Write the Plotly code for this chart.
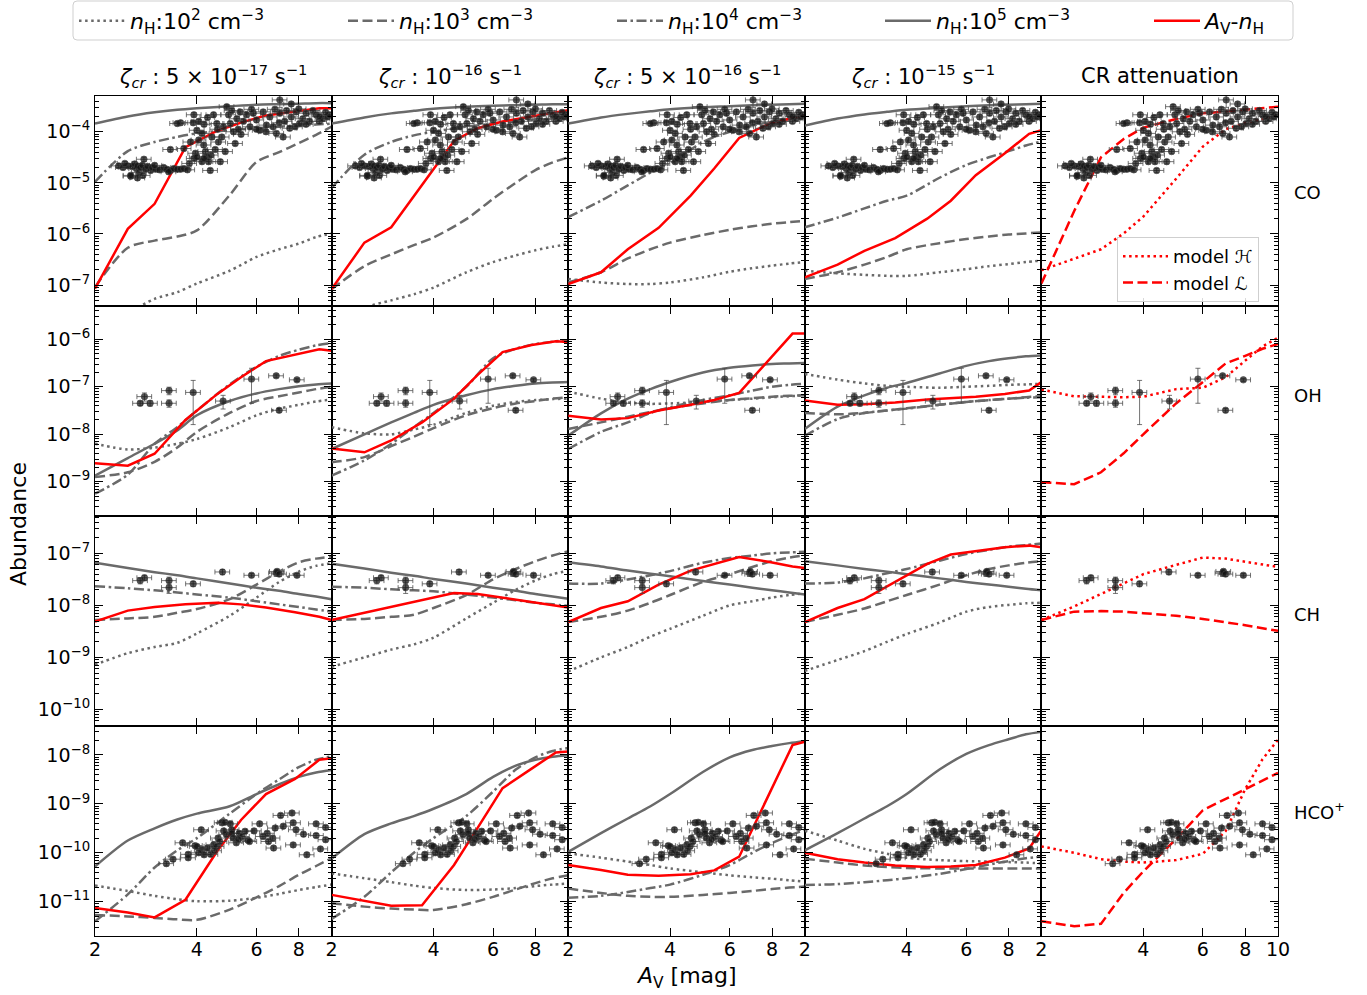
import math
import plotly.graph_objects as go
from plotly.subplots import make_subplots

W, H = 1367, 995

# ---------------------------------------------------------------- data
# visual extinction grids (mag)
AV_GRID = [2.0, 2.5, 3.0, 3.5, 4.0, 5.0, 6.0, 7.0, 8.0, 9.0, 10.0]
AV_RED = [2.0, 2.5, 3.0, 3.7, 4.6, 5.4, 6.4, 7.8, 9.2, 10.0]

COL_TITLES = [
    "<i>ζ<sub>cr</sub></i> : 5 × 10<sup>−17</sup> s<sup>−1</sup>",
    "<i>ζ<sub>cr</sub></i> : 10<sup>−16</sup> s<sup>−1</sup>",
    "<i>ζ<sub>cr</sub></i> : 5 × 10<sup>−16</sup> s<sup>−1</sup>",
    "<i>ζ<sub>cr</sub></i> : 10<sup>−15</sup> s<sup>−1</sup>",
    "CR attenuation",
]
ROW_LABELS = ["CO", "OH", "CH", "HCO<sup>+</sup>"]

# log10 abundances on AV_GRID, one list per cosmic-ray ionisation rate
CO_N2 = [
    [-7.9, -7.55, -7.27, -7.14, -6.97, -6.72, -6.45, -6.3, -6.19, -6.06, -5.99],
    [-7.9, -7.45, -7.3, -7.18, -7.05, -6.75, -6.55, -6.42, -6.32, -6.25, -6.2],
    [-6.88, -6.95, -6.98, -6.98, -6.95, -6.85, -6.74, -6.67, -6.62, -6.58, -6.55],
    [-6.72, -6.77, -6.8, -6.82, -6.82, -6.75, -6.69, -6.63, -6.59, -6.55, -6.52],
]
CO_N3 = [
    [-7.04, -6.27, -6.13, -6.05, -5.93, -5.24, -4.59, -4.4, -4.22, -4.06, -3.9],
    [-7.08, -6.63, -6.4, -6.22, -6.07, -5.71, -5.31, -5.0, -4.75, -4.6, -4.5],
    [-6.95, -6.75, -6.48, -6.3, -6.17, -6.02, -5.92, -5.85, -5.8, -5.77, -5.74],
    [-6.88, -6.75, -6.6, -6.45, -6.3, -6.18, -6.1, -6.05, -6.01, -5.99, -5.97],
]
CO_N4 = [
    [-4.98, -4.38, -4.2, -4.1, -4.03, -3.97, -3.93, -3.9, -3.88, -3.86, -3.84],
    [-5.1, -4.45, -4.2, -4.07, -4.0, -3.9, -3.84, -3.8, -3.77, -3.74, -3.72],
    [-5.67, -5.35, -5.05, -4.8, -4.62, -4.2, -4.0, -3.88, -3.8, -3.75, -3.71],
    [-5.87, -5.68, -5.5, -5.35, -5.25, -4.9, -4.65, -4.5, -4.38, -4.27, -4.19],
]
CO_N5 = [
    [-3.84, -3.7, -3.62, -3.57, -3.54, -3.5, -3.47, -3.46, -3.45, -3.44, -3.44],
    [-3.84, -3.72, -3.64, -3.59, -3.55, -3.51, -3.49, -3.48, -3.47, -3.46, -3.46],
    [-3.84, -3.72, -3.65, -3.6, -3.56, -3.52, -3.5, -3.48, -3.47, -3.46, -3.45],
    [-3.88, -3.74, -3.66, -3.61, -3.57, -3.53, -3.5, -3.48, -3.47, -3.46, -3.45],
]
CO_AVNH = [  # on AV_RED
    [-7.07, -5.9, -5.41, -4.3, -3.98, -3.82, -3.68, -3.6, -3.54, -3.54],
    [-7.08, -6.17, -5.87, -5.05, -4.18, -3.93, -3.8, -3.7, -3.62, -3.58],
    [-6.98, -6.75, -6.3, -5.88, -5.25, -4.72, -4.12, -3.85, -3.73, -3.68],
    [-6.85, -6.6, -6.33, -6.08, -5.7, -5.35, -4.85, -4.42, -4.04, -3.97],
]
CO_MODEL_H = [-6.71, -6.48, -6.3, -5.99, -5.66, -4.92, -4.29, -3.95, -3.83, -3.75, -3.67]
CO_MODEL_L = [-6.97, -5.55, -4.5, -4.14, -3.92, -3.75, -3.64, -3.6, -3.56, -3.53, -3.51]

OH_N2 = [
    [-8.2, -8.32, -8.28, -8.2, -8.1, -7.85, -7.6, -7.46, -7.38, -7.31, -7.27],
    [-7.85, -7.98, -8.0, -7.9, -7.8, -7.55, -7.4, -7.32, -7.28, -7.26, -7.25],
    [-7.1, -7.25, -7.33, -7.36, -7.35, -7.32, -7.28, -7.25, -7.22, -7.2, -7.18],
    [-6.73, -6.85, -6.93, -6.98, -7.0, -7.02, -7.0, -6.98, -6.96, -6.95, -6.94],
]
OH_N3 = [
    [-8.9, -8.8, -8.58, -8.28, -7.95, -7.55, -7.3, -7.2, -7.12, -7.05, -7.0],
    [-8.59, -8.48, -8.25, -8.05, -7.87, -7.6, -7.45, -7.35, -7.3, -7.25, -7.22],
    [-7.89, -7.75, -7.63, -7.53, -7.45, -7.35, -7.28, -7.24, -7.21, -7.19, -7.18],
    [-7.55, -7.58, -7.55, -7.5, -7.45, -7.38, -7.32, -7.28, -7.25, -7.22, -7.2],
]
OH_N4 = [
    [-9.25, -8.85, -8.2, -7.85, -7.5, -6.95, -6.58, -6.35, -6.22, -6.13, -6.08],
    [-8.87, -8.55, -8.2, -7.85, -7.55, -7.0, -6.4, -6.2, -6.1, -6.05, -6.02],
    [-8.31, -7.95, -7.75, -7.55, -7.43, -7.28, -7.18, -7.08, -7.0, -6.96, -6.94],
    [-8.03, -7.68, -7.55, -7.5, -7.46, -7.38, -7.32, -7.28, -7.25, -7.23, -7.22],
]
OH_N5 = [
    [-8.87, -8.5, -8.2, -7.92, -7.6, -7.3, -7.14, -7.05, -6.99, -6.95, -6.93],
    [-8.31, -8.0, -7.75, -7.55, -7.38, -7.18, -7.05, -6.98, -6.93, -6.91, -6.9],
    [-8.03, -7.56, -7.25, -7.05, -6.9, -6.7, -6.6, -6.55, -6.52, -6.51, -6.5],
    [-7.89, -7.42, -7.18, -7.02, -6.92, -6.72, -6.56, -6.46, -6.4, -6.36, -6.34],
]
OH_AVNH = [
    [-8.61, -8.66, -8.41, -7.7, -7.15, -6.8, -6.46, -6.32, -6.21, -6.24],
    [-8.3, -8.38, -8.13, -7.75, -7.25, -6.75, -6.27, -6.12, -6.04, -6.06],
    [-7.61, -7.69, -7.66, -7.5, -7.38, -7.28, -7.13, -6.45, -5.88, -5.88],
    [-7.29, -7.38, -7.37, -7.33, -7.27, -7.24, -7.21, -7.15, -7.08, -6.9],
]
OH_MODEL_H = [-7.06, -7.2, -7.21, -7.22, -7.21, -7.05, -7.02, -6.8, -6.45, -6.15, -5.97]
OH_MODEL_L = [-9.01, -9.05, -8.8, -8.4, -8.0, -7.35, -6.9, -6.51, -6.35, -6.2, -6.1]

CH_N2 = [
    [-9.14, -8.92, -8.8, -8.72, -8.54, -8.2, -7.85, -7.55, -7.35, -7.24, -7.19],
    [-9.18, -9.0, -8.85, -8.75, -8.62, -8.25, -7.95, -7.7, -7.52, -7.4, -7.33],
    [-9.27, -9.0, -8.8, -8.6, -8.45, -8.2, -8.0, -7.92, -7.85, -7.8, -7.77],
    [-9.26, -9.05, -8.88, -8.7, -8.55, -8.33, -8.12, -8.03, -7.99, -7.96, -7.95],
]
CH_N3 = [
    [-8.28, -8.25, -8.22, -8.14, -8.07, -7.88, -7.6, -7.35, -7.17, -7.1, -7.06],
    [-8.28, -8.26, -8.22, -8.18, -8.05, -7.8, -7.5, -7.3, -7.15, -7.04, -6.96],
    [-8.32, -8.22, -8.1, -7.95, -7.8, -7.55, -7.4, -7.26, -7.15, -7.08, -7.04],
    [-8.32, -8.18, -8.06, -7.92, -7.8, -7.6, -7.42, -7.3, -7.23, -7.18, -7.15],
]
CH_N4 = [
    [-7.63, -7.67, -7.71, -7.75, -7.79, -7.85, -7.92, -7.98, -8.03, -8.08, -8.12],
    [-7.64, -7.66, -7.69, -7.71, -7.73, -7.79, -7.85, -7.9, -7.95, -7.98, -8.01],
    [-7.58, -7.58, -7.5, -7.42, -7.34, -7.18, -7.09, -7.04, -7.0, -6.98, -6.97],
    [-7.58, -7.56, -7.48, -7.38, -7.3, -7.14, -7.01, -6.93, -6.87, -6.84, -6.81],
]
CH_N5 = [
    [-7.18, -7.28, -7.36, -7.42, -7.48, -7.58, -7.66, -7.72, -7.78, -7.83, -7.88],
    [-7.2, -7.29, -7.37, -7.43, -7.49, -7.58, -7.66, -7.72, -7.78, -7.83, -7.87],
    [-7.17, -7.25, -7.33, -7.39, -7.44, -7.53, -7.6, -7.66, -7.71, -7.75, -7.79],
    [-7.15, -7.23, -7.3, -7.35, -7.4, -7.48, -7.55, -7.6, -7.64, -7.68, -7.71],
]
CH_AVNH = [
    [-8.31, -8.1, -8.03, -7.98, -7.95, -7.98, -8.04, -8.13, -8.22, -8.28],
    [-8.28, -8.14, -8.04, -7.9, -7.76, -7.78, -7.85, -7.94, -8.01, -8.04],
    [-8.32, -8.05, -7.92, -7.6, -7.33, -7.2, -7.07, -7.16, -7.25, -7.28],
    [-8.32, -8.05, -7.88, -7.55, -7.2, -7.02, -6.95, -6.88, -6.85, -6.88],
]
CH_MODEL_H = [-8.28, -8.02, -7.78, -7.58, -7.4, -7.22, -7.08, -7.1, -7.16, -7.21, -7.26]
CH_MODEL_L = [-8.28, -8.12, -8.11, -8.12, -8.15, -8.2, -8.26, -8.32, -8.38, -8.44, -8.49]

HCO_N2 = [
    [-10.67, -10.78, -10.88, -10.95, -10.99, -10.98, -10.92, -10.84, -10.76, -10.7, -10.65],
    [-10.42, -10.52, -10.6, -10.67, -10.72, -10.76, -10.75, -10.72, -10.68, -10.65, -10.63],
    [-10.01, -10.1, -10.18, -10.25, -10.32, -10.4, -10.46, -10.5, -10.53, -10.56, -10.59],
    [-9.55, -9.75, -9.92, -10.02, -10.1, -10.15, -10.17, -10.18, -10.19, -10.2, -10.22],
]
HCO_N3 = [
    [-11.27, -11.3, -11.33, -11.36, -11.37, -11.16, -10.91, -10.68, -10.45, -10.27, -10.11],
    [-11.03, -11.1, -11.14, -11.16, -11.17, -11.05, -10.9, -10.75, -10.62, -10.52, -10.46],
    [-10.73, -10.82, -10.88, -10.9, -10.9, -10.86, -10.82, -10.78, -10.74, -10.71, -10.69],
    [-10.12, -10.2, -10.26, -10.29, -10.31, -10.32, -10.32, -10.32, -10.32, -10.32, -10.32],
]
HCO_N4 = [
    [-11.4, -10.85, -10.3, -9.95, -9.7, -9.2, -8.8, -8.5, -8.25, -8.1, -8.03],
    [-11.35, -10.9, -10.4, -10.0, -9.7, -9.25, -8.75, -8.3, -8.05, -7.92, -7.86],
    [-10.92, -10.88, -10.8, -10.72, -10.65, -10.45, -10.25, -10.0, -9.8, -9.65, -9.53],
    [-10.66, -10.64, -10.6, -10.56, -10.52, -10.43, -10.33, -10.24, -10.17, -10.11, -10.08],
]
HCO_N5 = [
    [-10.28, -9.75, -9.5, -9.32, -9.2, -9.05, -8.8, -8.6, -8.45, -8.36, -8.31],
    [-10.12, -9.62, -9.4, -9.25, -9.1, -8.8, -8.45, -8.22, -8.1, -8.04, -8.01],
    [-9.98, -9.6, -9.3, -9.05, -8.8, -8.35, -8.05, -7.9, -7.82, -7.76, -7.72],
    [-9.95, -9.6, -9.3, -9.05, -8.8, -8.3, -7.98, -7.8, -7.68, -7.58, -7.53],
]
HCO_AVNH = [
    [-11.13, -11.22, -11.32, -10.96, -9.96, -9.33, -8.8, -8.49, -8.1, -8.07],
    [-10.86, -10.98, -11.08, -11.07, -10.25, -9.49, -8.68, -8.28, -7.95, -7.93],
    [-10.25, -10.35, -10.45, -10.47, -10.44, -10.36, -10.08, -8.83, -7.8, -7.73],
    [-10.0, -10.13, -10.2, -10.26, -10.29, -10.28, -10.25, -10.1, -9.91, -9.54],
]
HCO_MODEL_H = [-9.87, -10.0, -10.13, -10.18, -10.2, -10.15, -10.02, -9.56, -8.7, -8.09, -7.69]
HCO_MODEL_L = [-11.4, -11.5, -11.45, -10.82, -10.38, -9.72, -9.13, -8.9, -8.7, -8.54, -8.37]

# observed abundances (A_V in mag, abundance relative to H)
CO_OBS_AV = [
    2.35, 2.42, 2.50, 2.55, 2.58, 2.62, 2.65, 2.67, 2.70, 2.72, 2.76, 2.79, 2.82, 2.86,
    2.92, 2.95, 3.02, 3.10, 3.19, 3.26, 3.34, 3.42, 3.50, 3.58, 3.66, 3.75, 2.55, 2.77,
    2.67, 2.45, 3.00, 3.30,
    3.34, 3.58, 3.66, 3.83, 3.92, 3.92, 3.96, 4.00, 4.05, 4.05, 4.14, 4.14, 4.19, 4.24,
    4.28, 4.33, 4.38, 4.43, 4.48, 4.53, 4.58, 4.63, 4.69, 4.74, 4.79, 4.85, 4.90, 4.96,
    5.02, 5.07, 5.13, 5.19, 5.25, 5.37, 5.49, 5.61, 5.74, 5.87, 6.00, 6.14, 6.28, 6.42,
    6.57, 6.72, 6.87, 7.03, 7.19, 7.27, 7.36, 7.52, 7.60, 7.86, 8.04, 8.22, 8.41, 8.60,
    8.80, 9.00, 9.20, 9.41, 9.73, 9.84, 7.03, 7.60, 9.20,
    4.30, 4.60, 4.40, 4.20, 3.80, 4.00, 5.40, 5.30, 6.00, 6.40, 7.00, 7.80, 8.40, 9.60,
    5.80, 6.80, 8.00, 3.50, 3.90, 4.20,
]
CO_OBS_AB = [
    2.15e-5, 2.0e-5, 2.15e-5, 1.35e-5, 2.1e-5, 2.35e-5, 1.9e-5, 2.15e-5, 1.6e-5, 2.0e-5,
    2.2e-5, 2.9e-5, 1.85e-5, 2.1e-5, 1.75e-5, 2.0e-5, 1.85e-5, 1.8e-5, 2.0e-5, 1.85e-5,
    1.75e-5, 1.9e-5, 1.85e-5, 1.85e-5, 1.9e-5, 1.8e-5, 1.4e-5, 1.4e-5, 1.25e-5, 2.4e-5,
    2.2e-5, 1.65e-5,
    4.5e-5, 1.5e-4, 4.7e-5, 6.3e-5, 3.0e-5, 2.15e-4, 3.8e-5, 1.07e-4, 1.6e-4, 6.9e-5,
    2.6e-5, 9.3e-5, 5.5e-5, 4.1e-5, 3.2e-5, 2.6e-5, 1.75e-5, 7.9e-5, 2.15e-4, 4.5e-5,
    1.45e-4, 6.3e-5, 2.6e-5, 7.9e-5, 1.25e-4, 4.1e-5, 3.1e-4, 2.15e-4, 1.45e-4, 2.6e-4,
    1.0e-4, 5.9e-5, 1.8e-4, 2.45e-4, 1.6e-4, 2.15e-4, 1.25e-4, 2.3e-4, 1.7e-4, 1.07e-4,
    2.45e-4, 1.35e-4, 1.95e-4, 1.25e-4, 9.3e-5, 2.3e-4, 7.9e-5, 1.6e-4, 2.6e-4, 1.17e-4,
    1.95e-4, 2.45e-4, 1.45e-4, 1.8e-4, 2.3e-4, 1.6e-4, 2.6e-4, 2.15e-4, 1.6e-4, 1.8e-4,
    1.95e-4, 2.15e-4, 4.2e-4, 3.5e-4, 2.0e-4,
    1.9e-4, 1.12e-4, 3.5e-5, 3.0e-5, 2.4e-5, 3.2e-5, 8.9e-5, 1.12e-4, 1.12e-4, 1.0e-4,
    1.5e-4, 1.25e-4, 1.4e-4, 2.4e-4, 2.75e-4, 2.75e-4, 2.8e-4, 1.45e-4, 1.5e-4, 1.4e-4,
]
CO_OBS_ERR_FRAC = 0.1
CO_OBS_BIG_ERR = {94: 1.2e-4}  # index -> absolute error of the one broad measurement

OH_OBS_AV = [2.72, 2.80, 2.91, 3.31, 3.31, 3.90, 4.78, 5.80, 6.86, 7.00, 7.90]
OH_OBS_AB = [4.5e-8, 6.2e-8, 4.5e-8, 8.3e-8, 4.5e-8, 7.6e-8, 5.0e-8, 1.45e-7, 1.7e-7, 3.2e-8, 1.4e-7]
OH_OBS_ERR = [0.5e-8, 1.2e-8, 0.6e-8, 1.5e-8, 0.8e-8, 6.0e-8, 1.6e-8, 1.0e-7, 0.15e-7, 0.3e-8, 0.1e-7]

CH_OBS_AV = [2.72, 2.80, 3.31, 3.31, 3.90, 4.76, 5.80, 6.86, 6.90, 7.00, 7.90]
CH_OBS_AB = [3.0e-8, 3.4e-8, 3.0e-8, 2.2e-8, 2.6e-8, 4.4e-8, 3.8e-8, 4.2e-8, 4.5e-8, 4.0e-8, 3.8e-8]
CH_OBS_ERR = [0.4e-8, 0.4e-8, 0.5e-8, 0.5e-8, 0.3e-8, 0.5e-8, 0.3e-8, 0.6e-8, 0.5e-8, 0.4e-8, 0.3e-8]

HCO_OBS_AV = [
    3.25, 3.40, 3.63, 3.77, 3.77, 3.95, 4.00, 4.12, 4.14, 4.20, 4.39, 4.48, 4.58, 4.62,
    4.67, 4.74, 4.84, 4.89, 5.02, 5.07, 5.07, 5.12, 5.23, 5.33, 5.44, 5.55, 5.66, 5.72,
    6.13, 6.27, 6.45, 6.51, 6.70, 6.74, 6.81, 7.07, 7.20, 7.64, 7.70, 7.70, 7.85, 8.26,
    8.45, 9.00, 9.00, 9.27, 9.60, 9.60, 4.30, 4.50, 4.05, 5.30, 4.80, 5.90,
]
HCO_OBS_AB = [
    6.0e-11, 7.4e-11, 1.6e-10, 9.3e-11, 7.9e-11, 1.4e-10, 1.35e-10, 2.95e-10, 1.15e-10,
    9.1e-11, 9.3e-11, 1.45e-10, 1.35e-10, 2.0e-10, 1.7e-10, 4.1e-10, 4.2e-10, 2.35e-10,
    3.9e-10, 2.95e-10, 2.5e-10, 2.0e-10, 1.6e-10, 2.5e-10, 2.15e-10, 2.75e-10, 1.8e-10,
    1.7e-10, 3.9e-10, 2.15e-10, 2.5e-10, 1.7e-10, 2.0e-10, 1.25e-10, 3.2e-10, 5.8e-10,
    3.5e-10, 6.5e-10, 4.1e-10, 1.45e-10, 2.95e-10, 2.4e-10, 9.1e-11, 3.9e-10, 2.25e-10,
    1.2e-10, 3.3e-10, 1.85e-10, 1.25e-10, 1.1e-10, 1.0e-10, 1.9e-10, 2.8e-10, 2.8e-10,
]
HCO_OBS_ERR_FRAC = 0.1

AV_ERR_FRAC = 0.05  # relative A_V uncertainty of the observations

# ---------------------------------------------------------------- layout helpers
COL_EDGES = [95 + i * 236.6 for i in range(6)]
ROW_EDGES = [96 + j * 210 for j in range(5)]
Y_RANGES = [(-7.41, -3.30), (-9.72, -5.30), (-10.32, -6.28), (-11.70, -7.41)]


def px_x(x):
    return x / W


def px_y(y):
    return 1 - y / H


def lin(vals):
    return [10.0 ** v for v in vals]


def sup_minus(n):
    return "10<sup>−%d</sup>" % (-n)


SPECIES = [
    dict(n2=CO_N2, n3=CO_N3, n4=CO_N4, n5=CO_N5, avnh=CO_AVNH, mh=CO_MODEL_H, ml=CO_MODEL_L,
         av=CO_OBS_AV, ab=CO_OBS_AB,
         err=[CO_OBS_BIG_ERR.get(i, CO_OBS_ERR_FRAC * a) for i, a in enumerate(CO_OBS_AB)]),
    dict(n2=OH_N2, n3=OH_N3, n4=OH_N4, n5=OH_N5, avnh=OH_AVNH, mh=OH_MODEL_H, ml=OH_MODEL_L,
         av=OH_OBS_AV, ab=OH_OBS_AB, err=OH_OBS_ERR),
    dict(n2=CH_N2, n3=CH_N3, n4=CH_N4, n5=CH_N5, avnh=CH_AVNH, mh=CH_MODEL_H, ml=CH_MODEL_L,
         av=CH_OBS_AV, ab=CH_OBS_AB, err=CH_OBS_ERR),
    dict(n2=HCO_N2, n3=HCO_N3, n4=HCO_N4, n5=HCO_N5, avnh=HCO_AVNH, mh=HCO_MODEL_H,
         ml=HCO_MODEL_L, av=HCO_OBS_AV, ab=HCO_OBS_AB,
         err=[HCO_OBS_ERR_FRAC * a for a in HCO_OBS_AB]),
]

GRAY = "#6a6a6a"
RED = "#ff0000"
LW = 2.5
# (key, dash pattern, legend label, which top legend holds it)
DENSITY_STYLES = [
    ("n2", "2.5px,3.6px", "<i>n</i><sub>H</sub>:10<sup>2</sup> cm<sup>−3</sup>", "legend"),
    ("n3", "10px,4.5px", "<i>n</i><sub>H</sub>:10<sup>3</sup> cm<sup>−3</sup>", "legend"),
    ("n4", "10px,3.5px,2.5px,3.5px", "<i>n</i><sub>H</sub>:10<sup>4</sup> cm<sup>−3</sup>", "legend"),
    ("n5", "solid", "<i>n</i><sub>H</sub>:10<sup>5</sup> cm<sup>−3</sup>", "legend3"),
]
FONT = "DejaVu Sans"

fig = make_subplots(rows=4, cols=5, horizontal_spacing=0, vertical_spacing=0)

for r, sp in enumerate(SPECIES):
    for c in range(5):
        first = (r == 0 and c == 0)
        if c < 4:
            for key, dash, name, leg in DENSITY_STYLES:
                fig.add_trace(go.Scatter(
                    x=AV_GRID, y=lin(sp[key][c]), mode="lines", name=name,
                    line=dict(color=GRAY, width=LW, dash=dash, shape="spline", smoothing=0.8),
                    showlegend=first, legend=leg, legendgroup=key, hoverinfo="skip"),
                    row=r + 1, col=c + 1)
            fig.add_trace(go.Scatter(
                x=AV_RED, y=lin(sp["avnh"][c]), mode="lines",
                name="<i>A</i><sub>V</sub>-<i>n</i><sub>H</sub>",
                line=dict(color=RED, width=LW), showlegend=first, legend="legend3",
                legendgroup="avnh", hoverinfo="skip"),
                row=r + 1, col=c + 1)
        else:
            fig.add_trace(go.Scatter(
                x=AV_GRID, y=lin(sp["mh"]), mode="lines", name="model ℋ",
                line=dict(color=RED, width=LW, dash="2.5px,3.6px"),
                showlegend=(r == 0), legend="legend2", legendgroup="mh", hoverinfo="skip"),
                row=r + 1, col=c + 1)
            fig.add_trace(go.Scatter(
                x=AV_GRID, y=lin(sp["ml"]), mode="lines", name="model ℒ",
                line=dict(color=RED, width=LW, dash="10px,4.5px"),
                showlegend=(r == 0), legend="legend2", legendgroup="ml", hoverinfo="skip"),
                row=r + 1, col=c + 1)
        fig.add_trace(go.Scatter(
            x=sp["av"], y=sp["ab"], mode="markers", showlegend=False, hoverinfo="skip",
            marker=dict(size=6.5, color="rgba(20,20,20,0.72)",
                        line=dict(width=0.8, color="rgba(70,70,70,0.8)")),
            error_x=dict(type="data", array=[AV_ERR_FRAC * a for a in sp["av"]],
                         color="rgba(70,70,70,0.75)", thickness=1, width=2.5),
            error_y=dict(type="data", array=sp["err"],
                         color="rgba(70,70,70,0.75)", thickness=1, width=2.5)),
            row=r + 1, col=c + 1)

# ---------------------------------------------------------------- axes
for r in range(4):
    lo, hi = Y_RANGES[r]
    majors = list(range(math.ceil(lo), math.floor(hi) + 1))
    minors = []
    for k in range(math.floor(lo), math.ceil(hi) + 1):
        for m in range(2, 10):
            v = m * 10.0 ** k
            if lo <= math.log10(v) <= hi:
                minors.append(v)
    for c in range(5):
        xt = [2, 4, 6, 8] + ([10] if c == 4 else [])
        fig.update_xaxes(
            type="log", range=[math.log10(2), 1.0],
            domain=[px_x(COL_EDGES[c]), px_x(COL_EDGES[c + 1])],
            tickmode="array", tickvals=xt, ticktext=[str(v) for v in xt],
            ticks="inside", ticklen=8, tickwidth=1.3, tickcolor="black",
            ticklabelstandoff=-4,
            showline=True, linecolor="black", linewidth=1.2, mirror="allticks",
            showgrid=False, zeroline=False, showticklabels=(r == 3), automargin=False,
            tickfont=dict(family=FONT, size=19, color="black"),
            row=r + 1, col=c + 1)
        fig.update_yaxes(
            type="log", range=[lo, hi],
            domain=[px_y(ROW_EDGES[r + 1]), px_y(ROW_EDGES[r])],
            tickmode="array", tickvals=[10.0 ** k for k in majors],
            ticktext=[sup_minus(k) for k in majors],
            ticks="inside", ticklen=8, tickwidth=1.3, tickcolor="black",
            minor=dict(tickmode="array", tickvals=minors, ticks="inside", ticklen=4,
                       tickwidth=1, tickcolor="black", showgrid=False),
            showline=True, linecolor="black", linewidth=1.2, mirror="allticks",
            showgrid=False, zeroline=False, showticklabels=(c == 0), automargin=False,
            tickfont=dict(family=FONT, size=19, color="black"),
            row=r + 1, col=c + 1)

# ---------------------------------------------------------------- annotations
ann = []
for c, t in enumerate(COL_TITLES):
    ann.append(dict(text=t, x=px_x((COL_EDGES[c] + COL_EDGES[c + 1]) / 2), y=px_y(76),
                    xref="paper", yref="paper", showarrow=False, xanchor="center",
                    yanchor="middle", font=dict(family=FONT, size=21, color="black")))
for r, (lab, yy) in enumerate(zip(ROW_LABELS, [192, 395, 614, 811])):
    ann.append(dict(text=lab, x=px_x(1292), y=px_y(yy), xref="paper", yref="paper",
                    showarrow=False, xanchor="left", yanchor="middle",
                    font=dict(family=FONT, size=18, color="black")))
ann.append(dict(text="Abundance", x=px_x(18), y=px_y(524), xref="paper", yref="paper",
                showarrow=False, textangle=-90, xanchor="center", yanchor="middle",
                font=dict(family=FONT, size=22, color="black")))
ann.append(dict(text="<i>A</i><sub>V</sub> [mag]", x=px_x(686), y=px_y(977),
                xref="paper", yref="paper", showarrow=False, xanchor="center",
                yanchor="middle", font=dict(family=FONT, size=22, color="black")))

# rounded frame around the top legend
x0, x1, y0, y1 = px_x(73), px_x(1293), px_y(40), px_y(1)
rx, ry = 4 / W, 4 / H
frame = (f"M{x0 + rx},{y1} L{x1 - rx},{y1} Q{x1},{y1} {x1},{y1 - ry} "
         f"L{x1},{y0 + ry} Q{x1},{y0} {x1 - rx},{y0} L{x0 + rx},{y0} "
         f"Q{x0},{y0} {x0},{y0 + ry} L{x0},{y1 - ry} Q{x0},{y1} {x0 + rx},{y1} Z")

top_legend = dict(orientation="h", yanchor="top", xanchor="left",
                  entrywidth=208, entrywidthmode="pixels", itemwidth=46,
                  bgcolor="rgba(0,0,0,0)", borderwidth=0,
                  font=dict(family=FONT, size=22, color="black"))

fig.update_layout(
    width=W, height=H,
    margin=dict(l=0, r=0, t=0, b=0, autoexpand=False),
    paper_bgcolor="white", plot_bgcolor="white",
    font=dict(family=FONT, color="black"),
    annotations=ann,
    shapes=[dict(type="path", path=frame, xref="paper", yref="paper",
                 line=dict(color="#cfcfcf", width=1), fillcolor="rgba(255,255,255,0)")],
    legend=dict(top_legend, x=px_x(74), y=px_y(0)),
    legend3=dict(top_legend, x=px_x(880), y=px_y(0)),
    legend2=dict(x=px_x(1117), y=px_y(237), xanchor="left", yanchor="top",
                 bgcolor="rgba(255,255,255,0.85)", bordercolor="#cfcfcf", borderwidth=1,
                 itemwidth=45, tracegroupgap=0,
                 font=dict(family=FONT, size=18, color="black")),
)

fig.write_html("out.html")
